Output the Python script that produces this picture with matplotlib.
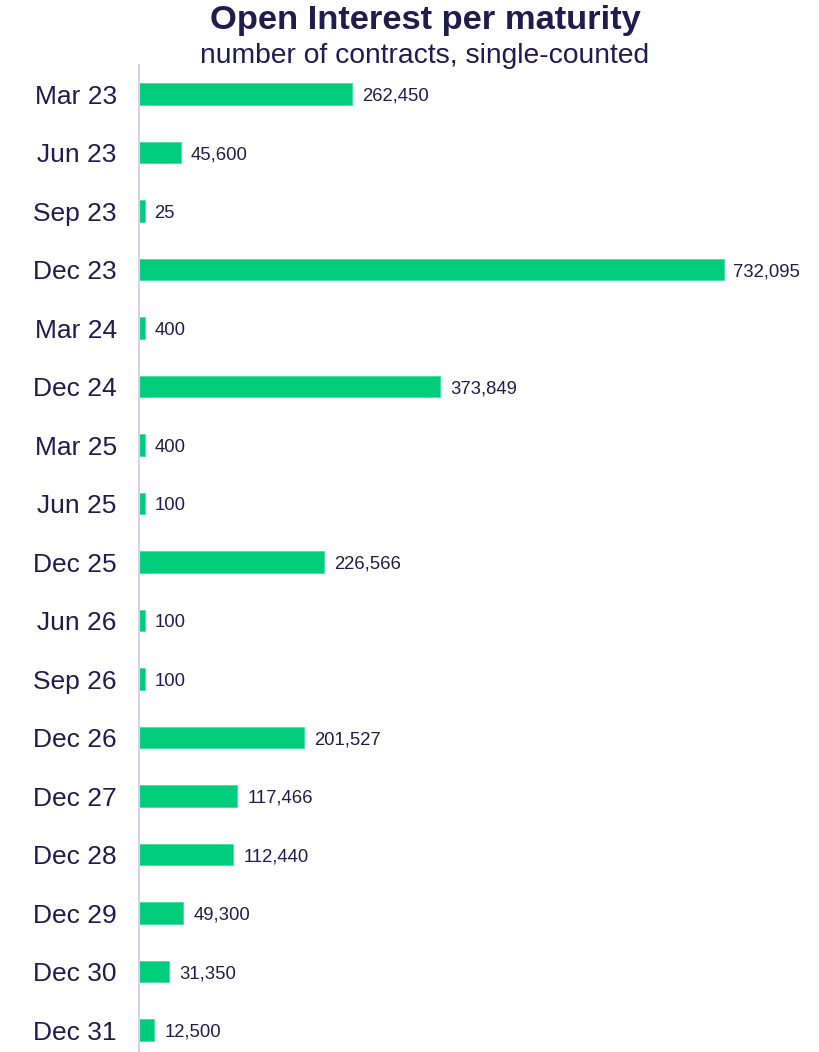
import matplotlib
matplotlib.use("Agg")
import matplotlib.pyplot as plt

categories = ["Mar 23", "Jun 23", "Sep 23", "Dec 23", "Mar 24", "Dec 24", "Mar 25",
              "Jun 25", "Dec 25", "Jun 26", "Sep 26", "Dec 26", "Dec 27", "Dec 28",
              "Dec 29", "Dec 30", "Dec 31"]
values = [262450, 45600, 25, 732095, 400, 373849, 400, 100, 226566, 100, 100,
          201527, 117466, 112440, 49300, 31350, 12500]

NAVY = "#211c4e"
GREEN = "#00cd7c"
FONT = "Liberation Sans"

W, H = 820, 1052
fig = plt.figure(figsize=(W / 100, H / 100), dpi=100)

ax_left = 139
ax_top = 64.75
spacing = 58.5
y0 = 94
ax = fig.add_axes([ax_left / W, 0, (W - ax_left) / W, (H - ax_top) / H])

scale = 579 / 732095  # px per unit
xmax = (W - ax_left) / scale
ax.set_xlim(0, xmax)
ylo = -0.5
yhi = (H - y0) / spacing
ax.set_ylim(yhi, ylo)

# minimum visible stub length (style), ~5 px
stub = 5.5 / scale

pos = list(range(len(categories)))
ax.barh(pos, [v + stub for v in values], left=0, height=0.36, color=GREEN,
        edgecolor="#3ddc9c", linewidth=0.5, zorder=2)

for p, v in zip(pos, values):
    ax.annotate(f"{v:,}", xy=(v + stub, p), xytext=(10, -2),
                textcoords="offset pixels",
                va="center", ha="left", fontsize=13.3, color=NAVY, family=FONT)

ax.set_yticks(pos)
ax.set_yticklabels(categories, fontsize=19, color=NAVY, family=FONT)
ax.tick_params(axis="y", length=0, pad=16)
ax.set_xticks([])
for s in ["top", "right", "bottom"]:
    ax.spines[s].set_visible(False)
ax.spines["left"].set_color("#d4d2ee")
ax.spines["left"].set_linewidth(1.5)
ax.spines["left"].set_zorder(3)

fig.text(425 / W, 1 - 21 / H, "Open Interest per maturity", ha="center", va="center",
         fontsize=24.8, fontweight="bold", color=NAVY, family=FONT)
fig.text(425 / W, 1 - 56 / H, "number of contracts, single-counted", ha="center",
         va="center", fontsize=20.3, color=NAVY, family=FONT)

fig.savefig("out.png", dpi=100)
